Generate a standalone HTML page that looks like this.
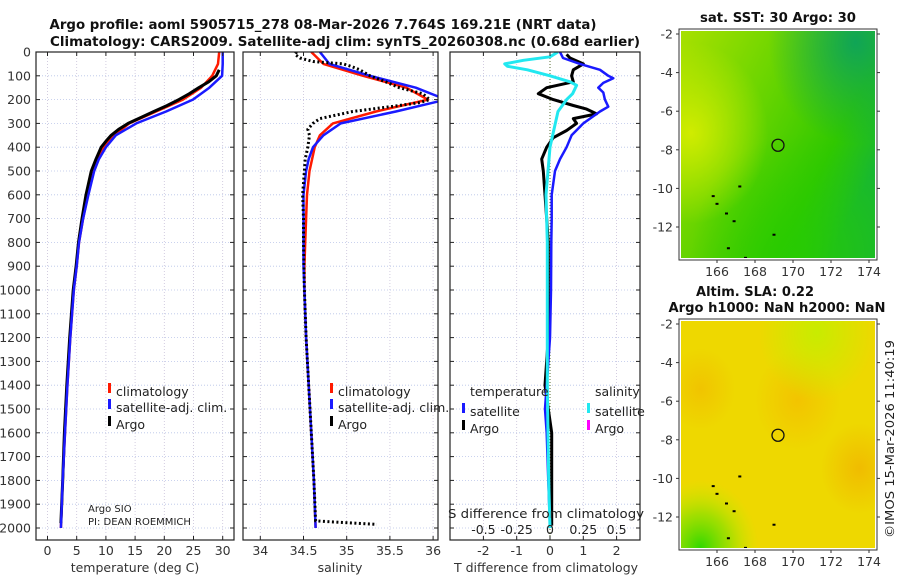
<!DOCTYPE html>
<html><head><meta charset="utf-8"><style>
html,body{margin:0;padding:0;background:#fff;}
svg{display:block;font-family:"DejaVu Sans","Liberation Sans",sans-serif;}
</style></head><body>
<svg id="fig" width="900" height="580" viewBox="0 0 900 580" xmlns="http://www.w3.org/2000/svg">
<defs>
<linearGradient id="sstg" x1="0" y1="0" x2="1" y2="0.6"><stop offset="0" stop-color="#a8e000"/><stop offset="0.45" stop-color="#66d400"/><stop offset="0.8" stop-color="#30c800"/><stop offset="1" stop-color="#18b830"/></linearGradient>
<radialGradient id="sstTR" cx="0.9" cy="0.05" r="0.45"><stop offset="0" stop-color="#0aa060" stop-opacity="0.9"/><stop offset="1" stop-color="#0aa060" stop-opacity="0"/></radialGradient>
<radialGradient id="sstL" cx="0.05" cy="0.45" r="0.4"><stop offset="0" stop-color="#d8ee00" stop-opacity="0.9"/><stop offset="1" stop-color="#d8ee00" stop-opacity="0"/></radialGradient>
<radialGradient id="sstB" cx="0.6" cy="1" r="0.55"><stop offset="0" stop-color="#28cc00" stop-opacity="0.9"/><stop offset="1" stop-color="#28cc00" stop-opacity="0"/></radialGradient>
<radialGradient id="slaO1" cx="0.6" cy="0.35" r="0.22"><stop offset="0" stop-color="#f2c400"/><stop offset="1" stop-color="#f2c400" stop-opacity="0"/></radialGradient>
<radialGradient id="slaO2" cx="0.92" cy="0.65" r="0.2"><stop offset="0" stop-color="#f0bc00"/><stop offset="1" stop-color="#f0bc00" stop-opacity="0"/></radialGradient>
<radialGradient id="slaO3" cx="0.1" cy="0.3" r="0.18"><stop offset="0" stop-color="#f0c400"/><stop offset="1" stop-color="#f0c400" stop-opacity="0"/></radialGradient>
<radialGradient id="slaG" cx="0.1" cy="1" r="0.3"><stop offset="0" stop-color="#30d800"/><stop offset="0.5" stop-color="#90e000" stop-opacity="0.8"/><stop offset="1" stop-color="#c8ea00" stop-opacity="0"/></radialGradient>
<radialGradient id="slaG2" cx="0.7" cy="0.05" r="0.3"><stop offset="0" stop-color="#c8ec00"/><stop offset="1" stop-color="#c8ec00" stop-opacity="0"/></radialGradient>
</defs>
<g id="root"></g>
</svg>
<script>
// ---- data ----
const depthTicks = [0,100,200,300,400,500,600,700,800,900,1000,1100,1200,1300,1400,1500,1600,1700,1800,1900,2000];
const tempTicks = [0,5,10,15,20,25,30];
const salTicks = [34,34.5,35,35.5,36];
const tdiffTicks = [-2,-1,0,1,2];
const sdiffTicks = [-0.5,-0.25,0,0.25,0.5];
const sdiffLabels = ["-0.5","-0.25","0","0.25","0.5"];
const lonTicks = [166,168,170,172,174];
const latTicks = [-2,-4,-6,-8,-10,-12];

const climDepth = [0,50,100,150,200,250,300,350,400,450,500,600,700,800,900,1000,1200,1400,1600,1800,2000];
const climTemp  = [29.4,29.2,28.2,26.3,23.2,18.6,14.0,11.4,9.7,8.6,7.8,6.9,6.1,5.4,5.0,4.5,3.9,3.4,3.0,2.6,2.3];
const satTemp   = [30.0,30.0,29.9,27.7,24.9,20.3,15.2,11.7,10.0,8.8,8.0,7.0,6.1,5.4,5.0,4.5,3.9,3.4,3.0,2.6,2.3];
const climSal = [34.59,34.73,35.19,35.69,35.94,35.34,34.84,34.69,34.63,34.60,34.57,34.54,34.53,34.52,34.51,34.51,34.53,34.56,34.59,34.62,34.64];
const satSal  = [34.69,34.80,35.27,35.80,36.15,35.57,34.93,34.73,34.61,34.56,34.53,34.50,34.50,34.50,34.50,34.51,34.53,34.56,34.59,34.62,34.64];

const argoDepth = [75,100,125,150,175,200,225,250,275,300,325,350,375,400,450,500,600,700,800,900,1000,1200,1400,1600,1800,1980];
const argoTemp  = [29.4,28.9,27.6,25.9,24.3,22.5,20.5,18.2,16.0,13.8,12.2,10.9,10.0,9.2,8.3,7.5,6.6,5.9,5.3,4.9,4.4,3.8,3.3,2.9,2.6,2.3];
const argoSalDepth = [0,10,25,40,50,60,75,100,125,150,175,200,212,225,250,280,300,325,350,400,450,500,600,700,800,1000,1200,1400,1600,1800,1970,1985];
const argoSal      = [34.42,34.40,34.46,34.61,34.96,35.05,35.15,35.27,35.45,35.61,35.88,35.96,35.85,35.61,35.07,34.69,34.61,34.55,34.57,34.55,34.52,34.51,34.49,34.50,34.50,34.51,34.53,34.56,34.59,34.62,34.64,35.35];

const tdDepth = [0,25,50,75,100,110,130,150,170,200,230,250,300,350,400,450,500,600,700,800,1000,1200,1400,1500,1600,1800,2000];
const satTdiff = [0.3,0.39,0.9,1.5,1.75,1.9,1.6,1.45,1.6,1.65,1.75,1.5,1.0,0.65,0.5,0.3,0.15,0.05,0.05,0.04,0.03,0.0,-0.1,-0.15,-0.1,-0.05,0.0];
const argoTdDepth = [10,25,50,75,100,125,150,175,200,225,240,260,280,300,330,360,400,450,500,600,700,800,1000,1200,1400,1500,1600,1800,1990];
const argoTdiff   = [0.5,0.6,1.0,0.7,0.65,0.7,-0.1,-0.35,0.1,0.7,1.1,1.4,0.7,0.8,0.5,0.1,-0.1,-0.25,-0.2,-0.15,-0.1,-0.05,-0.05,-0.05,-0.15,-0.05,0.05,0.05,0.05];
const sdDepth = [0,20,35,50,60,75,100,125,140,175,200,250,300,400,500,600,800,1000,1400,1800,2000];
const satSdiff = [0.06,0,-0.2,-0.34,-0.32,-0.17,0,0.15,0.2,0.17,0.125,0.06,0.04,0,-0.015,-0.03,-0.02,-0.02,-0.02,-0.01,0];

// ---- helpers ----
const NS="http://www.w3.org/2000/svg";
const root=document.getElementById('root');
function el(tag,attrs,parent,txt){const e=document.createElementNS(NS,tag);for(const k in attrs)e.setAttribute(k,attrs[k]);if(txt!==undefined)e.textContent=txt;(parent||root).appendChild(e);return e;}
const Y0=52, YP=0.238;
function yD(d){return Y0+d*YP;}
const TOP=52, BOT=540;
const FS=12.5;
const panels=[
 {name:'temperature-panel',x0:36,x1:234,f:v=>47.5+v*5.84},
 {name:'salinity-panel',x0:243,x1:438,f:v=>260.3+(v-34)*86.4},
 {name:'difference-panel',x0:450,x1:640,f:v=>550+v*33.3}
];
const sx=v=>550+v*133.2;

function grid(p,xt,g){
  depthTicks.forEach(d=>{el('line',{x1:p.x0,x2:p.x1,y1:yD(d),y2:yD(d),stroke:'#b8c4e8','stroke-width':0.8,'stroke-dasharray':'1,2'},g);});
  xt.forEach(v=>{const x=p.f(v);el('line',{x1:x,x2:x,y1:TOP,y2:BOT,stroke:'#c8c0d8','stroke-width':0.8,'stroke-dasharray':'1,2'},g);});
}
function frame(p,xt,g){
  el('rect',{x:p.x0,y:TOP,width:p.x1-p.x0,height:BOT-TOP,fill:'none',stroke:'#222','stroke-width':1.2},g);
  depthTicks.forEach(d=>{el('line',{x1:p.x0,x2:p.x0+4,y1:yD(d),y2:yD(d),stroke:'#222'},g);el('line',{x1:p.x1-4,x2:p.x1,y1:yD(d),y2:yD(d),stroke:'#222'},g);});
  xt.forEach(v=>{const x=p.f(v);el('line',{x1:x,x2:x,y1:BOT-4,y2:BOT,stroke:'#222'},g);el('line',{x1:x,x2:x,y1:TOP,y2:TOP+4,stroke:'#222'},g);});
}
function line(xs,ds,fx,color,w,g,name,dash){
  const pts=xs.map((v,i)=>fx(v).toFixed(1)+','+yD(ds[i]).toFixed(1)).join(' ');
  const a={points:pts,fill:'none',stroke:color,'stroke-width':w,'stroke-linejoin':'round'};
  if(dash)a['stroke-dasharray']=dash;
  const e=el('polyline',a,g);
  
  
  return e;
}
function clip(p,id){const c=el('clipPath',{id:id});el('rect',{x:p.x0,y:TOP,width:p.x1-p.x0,height:BOT-TOP},c);return 'url(#'+id+')';}

// titles
const tt=el('text',{x:323,y:29,'text-anchor':'middle','font-size':13.5,'font-weight':'bold',fill:'#111',textLength:547,lengthAdjust:'spacingAndGlyphs'},root,'Argo profile: aoml 5905715_278 08-Mar-2026 7.764S 169.21E (NRT data)');

const t2=el('text',{x:345,y:46,'text-anchor':'middle','font-size':13.5,'font-weight':'bold',fill:'#111',textLength:590,lengthAdjust:'spacingAndGlyphs'},root,'Climatology: CARS2009. Satellite-adj clim: synTS_20260308.nc (0.68d earlier)');


// Panel 1
{const p=panels[0];const g=el('g',{});
 grid(p,tempTicks,g);
 const cg=el('g',{'clip-path':clip(p,'c1')},g);
 line(climTemp,climDepth,p.f,'#ff1a00',2.5,cg,'temperature-climatology-line');
 line(argoTemp,argoDepth,p.f,'#000',3,cg,'temperature-argo-line');
 line(satTemp,climDepth,p.f,'#1a1aff',2.5,cg,'temperature-satellite-line');
 frame(p,tempTicks,g);
 depthTicks.forEach(d=>{const t=el('text',{x:31,y:yD(d)+4.5,'text-anchor':'end','font-size':FS,fill:'#333'},g,String(d));});
 tempTicks.forEach(v=>{const t=el('text',{x:p.f(v),y:555,'text-anchor':'middle','font-size':FS,fill:'#333'},g,String(v));});
 const xl=el('text',{x:135,y:572,'text-anchor':'middle','font-size':FS,fill:'#333'},g,'temperature (deg C)');
 const lg=el('g',{},g);
 [['climatology','#ff1a00',392],['satellite-adj. clim.','#1a1aff',408],['Argo','#000',425]].forEach(r=>{el('rect',{x:108,y:r[2]-9,width:3,height:10,fill:r[1]},lg);el('text',{x:116,y:r[2]+4,'font-size':FS,fill:'#222'},lg,r[0]);});
 const a1=el('text',{x:88,y:512,'font-size':10,fill:'#222'},g,'Argo SIO');
 const a2=el('text',{x:88,y:525,'font-size':10,fill:'#222'},g,'PI: DEAN ROEMMICH');
}
// Panel 2
{const p=panels[1];const g=el('g',{});
 grid(p,salTicks,g);
 const cg=el('g',{'clip-path':clip(p,'c2')},g);
 line(climSal,climDepth,p.f,'#ff1a00',2.5,cg,'salinity-climatology-line');
 line(satSal,climDepth,p.f,'#1a1aff',2.5,cg,'salinity-satellite-line');
 line(argoSal,argoSalDepth,p.f,'#000',3,cg,'salinity-argo-line','2,2.5');
 frame(p,salTicks,g);
 salTicks.forEach(v=>{const t=el('text',{x:p.f(v),y:555,'text-anchor':'middle','font-size':FS,fill:'#333'},g,String(v));});
 const xl=el('text',{x:340,y:572,'text-anchor':'middle','font-size':FS,fill:'#333'},g,'salinity');
 const lg=el('g',{},g);
 [['climatology','#ff1a00',392],['satellite-adj. clim.','#1a1aff',408],['Argo','#000',425]].forEach(r=>{el('rect',{x:330,y:r[2]-9,width:3,height:10,fill:r[1]},lg);el('text',{x:338,y:r[2]+4,'font-size':FS,fill:'#222'},lg,r[0]);});
}
// Panel 3
{const p=panels[2];const g=el('g',{});
 grid(p,tdiffTicks,g);
 el('line',{x1:550,x2:550,y1:TOP,y2:BOT,stroke:'#556b2f','stroke-width':1,'stroke-dasharray':'1,2'},g);
 const cg=el('g',{'clip-path':clip(p,'c3')},g);
 line(argoTdiff,argoTdDepth,p.f,'#000',3,cg,'argo-temperature-difference-line');
 line(satTdiff,tdDepth,p.f,'#1a1aff',2.5,cg,'satellite-temperature-difference-line');
 line(satSdiff,sdDepth,sx,'#22e8f0',3,cg,'satellite-salinity-difference-line');
 frame(p,tdiffTicks,g);
 tdiffTicks.forEach(v=>{const t=el('text',{x:p.f(v),y:555,'text-anchor':'middle','font-size':FS,fill:'#333'},g,String(v));});
 sdiffTicks.forEach((v,i)=>{const t=el('text',{x:sx(v),y:534,'text-anchor':'middle','font-size':FS,fill:'#222'},g,sdiffLabels[i]);});
 const sl=el('text',{x:546,y:518,'text-anchor':'middle','font-size':FS,fill:'#222',textLength:196,lengthAdjust:'spacingAndGlyphs'},g,'S difference from climatology');
 const xl=el('text',{x:546,y:572,'text-anchor':'middle','font-size':FS,fill:'#333'},g,'T difference from climatology');
 const lg=el('g',{},g);
 el('text',{x:470,y:396,'font-size':FS,fill:'#222'},lg,'temperature');
 el('text',{x:595,y:396,'font-size':FS,fill:'#222'},lg,'salinity');
 [['satellite','#1a1aff',463,412],['Argo','#000',463,429],['satellite','#22e8f0',588,412],['Argo','#ff00ff',588,429]].forEach(r=>{el('rect',{x:r[2]-1,y:r[3]-9,width:3,height:10,fill:r[1]},lg);el('text',{x:r[2]+7,y:r[3]+4,'font-size':FS,fill:'#222'},lg,r[0]);});
}

// Maps
function map(top,latMinY,name,kind,title){
 const g=el('g',{});
 const x0=679,x1=877,y0=top,y1=top+231;
 const lonX=v=>717+(v-166)*19;
 const latY=v=>latMinY+(-2-v)*19.3;
 if(kind==='sst'){
  el('rect',{x:x0+2,y:y0+2,width:x1-x0-4,height:y1-y0-4,fill:'url(#sstg)'},g);
  el('rect',{x:x0+2,y:y0+2,width:x1-x0-4,height:y1-y0-4,fill:'url(#sstB)'},g);
  el('rect',{x:x0+2,y:y0+2,width:x1-x0-4,height:y1-y0-4,fill:'url(#sstL)'},g);
  el('rect',{x:x0+2,y:y0+2,width:x1-x0-4,height:y1-y0-4,fill:'url(#sstTR)'},g);
 } else {
  el('rect',{x:x0+2,y:y0+2,width:x1-x0-4,height:y1-y0-4,fill:'#eed800'},g);
  ['slaO1','slaO2','slaO3','slaG2','slaG'].forEach(id=>el('rect',{x:x0+2,y:y0+2,width:x1-x0-4,height:y1-y0-4,fill:'url(#'+id+')'},g));
 }
 // islands
 [[167.2,-9.9],[165.8,-10.4],[166,-10.8],[166.9,-11.7],[166.5,-11.3],[166.6,-13.1],[167.5,-13.6],[169,-12.4]].forEach(c=>el('rect',{x:lonX(c[0])-1.5,y:latY(c[1])-1,width:3,height:2,fill:'#000'},g));
 el('rect',{x:x0+1,y:y0+1,width:x1-x0-2,height:y1-y0-2,fill:'none',stroke:'#fff','stroke-width':2},g);
 el('rect',{x:x0,y:y0,width:x1-x0,height:y1-y0,fill:'none',stroke:'#333','stroke-width':1},g);
 const c=el('circle',{cx:lonX(169.21),cy:latY(-7.764),r:6,fill:'none',stroke:'#111','stroke-width':1.3},g);
 
 latTicks.forEach(v=>{el('line',{x1:x0-3,x2:x0,y1:latY(v),y2:latY(v),stroke:'#333'},g);el('line',{x1:x1,x2:x1+3,y1:latY(v),y2:latY(v),stroke:'#333'},g);const t=el('text',{x:x0-6,y:latY(v)+4.5,'text-anchor':'end','font-size':FS,fill:'#333'},g,String(v));});
 lonTicks.forEach(v=>{el('line',{x1:lonX(v),x2:lonX(v),y1:y1,y2:y1+3,stroke:'#333'},g);const t=el('text',{x:lonX(v),y:y1+16,'text-anchor':'middle','font-size':FS,fill:'#333'},g,String(v));});
 title.forEach(s=>{const t=el('text',{x:s[1],y:s[2],'text-anchor':'middle','font-size':13.5,'font-weight':'bold',fill:'#111',textLength:s[3],lengthAdjust:'spacingAndGlyphs'},g,s[0]);});
}
map(29,34,'sst-map','sst',[['sat. SST: 30 Argo: 30',778,22,156]]);
map(319,324,'sla-map','sla',[['Altim. SLA: 0.22',755,296,118],['Argo h1000: NaN h2000: NaN',777,312,217]]);
const cp=el('text',{x:894,y:439,'text-anchor':'middle','font-size':FS,fill:'#222',transform:'rotate(-90 894 439)',textLength:198,lengthAdjust:'spacingAndGlyphs'},root,'©IMOS 15-Mar-2026 11:40:19');

</script>
</body></html>
